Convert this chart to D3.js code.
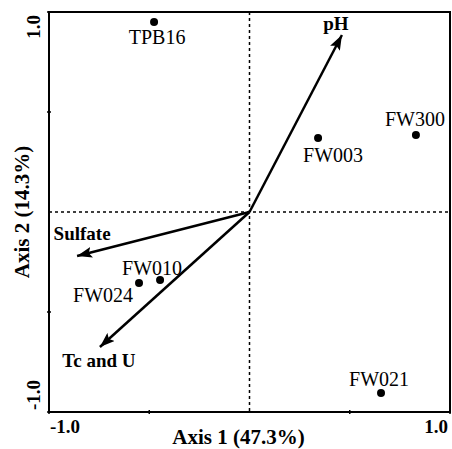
<!DOCTYPE html>
<html>
<head>
<meta charset="utf-8">
<script src="https://cdn.jsdelivr.net/npm/d3@7"></script>
<style>
  html, body { margin: 0; padding: 0; background: #fff; }
  svg { display: block; }
  text { font-family: "Liberation Serif", "Times New Roman", serif; fill: #000; }
</style>
</head>
<body>
<svg id="chart" width="452" height="449"></svg>
<script>
(() => {
  'use strict';

  // sample scores
  const sites  = ["TPB16", "FW003", "FW300", "FW010", "FW024", "FW021"];
  const siteX  = [-0.476, 0.342, 0.830, -0.446, -0.551, 0.656];
  const siteY  = [0.950, 0.370, 0.385, -0.340, -0.355, -0.905];

  // variable vectors
  const vars   = ["pH", "Sulfate", "Tc and U"];
  const varX   = [0.461, -0.860, -0.746];
  const varY   = [0.885, -0.220, -0.675];

  const tickVals = [-1, -0.5, 0.5, 1];
  const axisLabels = ["-1.0", "1.0"];
  const xTitle = "Axis 1 (47.3%)";
  const yTitle = "Axis 2 (14.3%)";

  // label nudges (px) relative to the mark
  const siteOff = [[3, 22], [15, 24], [-1, -9], [-8, -5], [-36, 19], [-2, -7]];
  const varOff  = [[-6, -5], [5, -16], [-1, 20]];

  const left = 49, right = 450, top = 12, bottom = 412;

  const svg = d3.select('#chart');

  const x = d3.scaleLinear().domain([-1, 1]).range([left, right]);
  const y = d3.scaleLinear().domain([-1, 1]).range([bottom, top]);

  svg.append('defs').append('marker')
    .attr('id', 'head')
    .attr('viewBox', '0 0 15 11')
    .attr('refX', 15).attr('refY', 5.5)
    .attr('markerWidth', 15).attr('markerHeight', 11)
    .attr('markerUnits', 'userSpaceOnUse')
    .attr('orient', 'auto')
    .append('path')
    .attr('d', 'M0,0 L15,5.5 L0,11 L3,5.5 Z')
    .attr('fill', '#000');

  // dashed zero lines
  svg.append('line')
    .attr('x1', x(0)).attr('x2', x(0))
    .attr('y1', y(1)).attr('y2', y(-1))
    .attr('stroke', '#000').attr('stroke-width', 1.5)
    .attr('stroke-dasharray', '3,3');
  svg.append('line')
    .attr('x1', x(-1)).attr('x2', x(1))
    .attr('y1', y(0)).attr('y2', y(0))
    .attr('stroke', '#000').attr('stroke-width', 1.5)
    .attr('stroke-dasharray', '3,3');

  // frame
  svg.append('rect')
    .attr('x', left).attr('y', top)
    .attr('width', right - left).attr('height', bottom - top)
    .attr('fill', 'none').attr('stroke', '#000').attr('stroke-width', 2);

  // small ticks
  svg.selectAll('.xt').data(tickVals).join('line')
    .attr('x1', d => x(d)).attr('x2', d => x(d))
    .attr('y1', bottom - 2).attr('y2', bottom + 2)
    .attr('stroke', '#000').attr('stroke-width', 1.5);
  svg.selectAll('.yt').data(tickVals).join('line')
    .attr('y1', d => y(d)).attr('y2', d => y(d))
    .attr('x1', left - 2).attr('x2', left + 2)
    .attr('stroke', '#000').attr('stroke-width', 1.5);

  // tick labels
  const bold = 'bold';
  svg.append('text').text(axisLabels[0])
    .attr('x', x(-1) + 1).attr('y', 433)
    .attr('font-size', 19).attr('font-weight', bold);
  svg.append('text').text(axisLabels[1])
    .attr('x', x(1) - 2).attr('y', 433)
    .attr('text-anchor', 'end')
    .attr('font-size', 19).attr('font-weight', bold);
  svg.append('text').text(axisLabels[1])
    .attr('transform', `translate(40,${y(1) + 3}) rotate(-90)`)
    .attr('text-anchor', 'end')
    .attr('font-size', 19).attr('font-weight', bold);
  svg.append('text').text(axisLabels[0])
    .attr('transform', `translate(40,${y(-1) - 2}) rotate(-90)`)
    .attr('text-anchor', 'start')
    .attr('font-size', 19).attr('font-weight', bold);

  // axis titles
  svg.append('text').text(xTitle)
    .attr('x', x(0) - 11).attr('y', 444)
    .attr('text-anchor', 'middle')
    .attr('font-size', 21).attr('font-weight', bold);
  svg.append('text').text(yTitle)
    .attr('transform', `translate(29,${y(0)}) rotate(-90)`)
    .attr('text-anchor', 'middle')
    .attr('font-size', 21).attr('font-weight', bold);

  // vectors
  svg.selectAll('.vec').data(vars).join('line')
    .attr('x1', x(0)).attr('y1', y(0))
    .attr('x2', (d, i) => x(varX[i])).attr('y2', (d, i) => y(varY[i]))
    .attr('stroke', '#000').attr('stroke-width', 2.5)
    .attr('marker-end', 'url(#head)');
  svg.selectAll('.vlab').data(vars).join('text')
    .text(d => d)
    .attr('x', (d, i) => x(varX[i]) + varOff[i][0])
    .attr('y', (d, i) => y(varY[i]) + varOff[i][1])
    .attr('text-anchor', 'middle')
    .attr('font-size', 19).attr('font-weight', bold);

  // sites
  svg.selectAll('.pt').data(sites).join('circle')
    .attr('cx', (d, i) => x(siteX[i]))
    .attr('cy', (d, i) => y(siteY[i]))
    .attr('r', 4).attr('fill', '#000');
  svg.selectAll('.plab').data(sites).join('text')
    .text(d => d)
    .attr('x', (d, i) => x(siteX[i]) + siteOff[i][0])
    .attr('y', (d, i) => y(siteY[i]) + siteOff[i][1])
    .attr('text-anchor', 'middle')
    .attr('font-size', 20);
})();
</script>
</body>
</html>
